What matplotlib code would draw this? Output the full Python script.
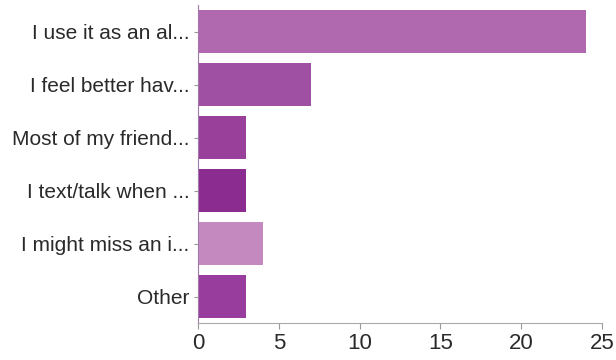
import matplotlib.pyplot as plt

# Reasons for keeping the phone on, with response counts
reasons = ['I use it as an al...', 'I feel better hav...', 'Most of my friend...',
           'I text/talk when ...', 'I might miss an i...', 'Other']
counts = [24, 7, 3, 3, 4, 3]
colors = ['#b068ae', '#a050a2', '#98409a', '#8a2c90', '#c48ac0', '#983c9e']

plt.rcParams['font.family'] = ['Liberation Sans', 'DejaVu Sans']

fig = plt.figure(figsize=(6.16, 3.6), dpi=100)
ax = fig.add_axes([198 / 616, 37 / 360, 404 / 616, 318 / 360])

ypos = list(range(len(reasons)))
ax.barh(ypos, counts, height=0.8, color=colors)
ax.set_yticks(ypos)
ax.set_yticklabels(reasons)
ax.set_ylim(len(reasons) - 0.5, -0.5)
ax.set_xlim(0, 25)
ax.set_xticks([0, 5, 10, 15, 20, 25])
ax.tick_params(axis='x', labelsize=16, colors='#999999', labelcolor='#2a2a2a', length=4)
ax.tick_params(axis='y', labelsize=15, colors='#999999', labelcolor='#2a2a2a', length=3, pad=3)

for side in ['top', 'right']:
    ax.spines[side].set_visible(False)
ax.spines['left'].set_color('#a07aa8')
ax.spines['bottom'].set_color('#aaaaaa')

fig.savefig('out.png', dpi=100)
